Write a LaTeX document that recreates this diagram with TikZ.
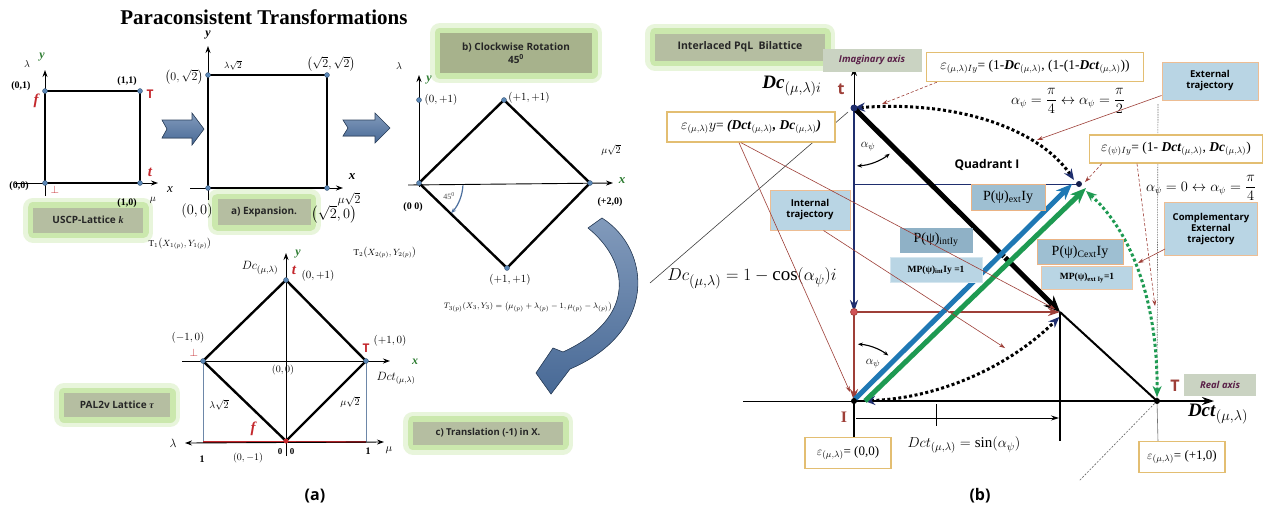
\documentclass[tikz,border=0pt]{standalone}
\usepackage{fontspec}
\usepackage{amsmath}
\setmainfont{Liberation Serif}
\newfontfamily\uisans{Open Sans}
\usetikzlibrary{arrows.meta,calc}
\definecolor{glowg}{HTML}{BFE39A}
\definecolor{olv}{HTML}{B5BEA1}
\definecolor{olvd}{HTML}{A7B28C}
\definecolor{navy}{HTML}{1F2E6E}
\definecolor{brn}{HTML}{9E3F38}
\definecolor{redl}{HTML}{C4282D}
\definecolor{stl}{HTML}{4C6F9E}
\definecolor{orng}{HTML}{E6A065}
\definecolor{gold}{HTML}{E3BE72}
\definecolor{lblue}{HTML}{B9D5E4}
\definecolor{mblue}{HTML}{9EBFD2}
\definecolor{dblue}{HTML}{8FB1C6}
\definecolor{dotblue}{HTML}{5A86B5}
\definecolor{arrblue}{HTML}{1F78B4}
\definecolor{arrgreen}{HTML}{1E9A52}
\definecolor{gaxis}{HTML}{2E7D32}
\definecolor{purp}{HTML}{5A2048}
\definecolor{axbox}{HTML}{CAD3C2}
\definecolor{vline}{HTML}{6D87A8}
\tikzset{
 ax/.style={line width=0.9pt,-{Stealth[length=7pt,width=5pt]}},
 sq/.style={line width=2.4pt,line join=round},
 bdot/.style={circle,fill=dotblue,draw=dotblue!60!black,line width=0.3pt,inner sep=0pt,minimum size=5pt},
 kdot/.style={circle,fill=black,inner sep=0pt,minimum size=6pt},
 cb/.style={font=\bfseries\fontsize{10}{12}\selectfont,inner sep=0pt},
 mt/.style={font=\fontsize{10}{12}\selectfont,inner sep=0pt},
 gbox/.style={fill=olv,text=black!85,font=\uisans\bfseries\fontsize{10}{12}\selectfont,align=center,inner sep=0pt,
   preaction={draw=glowg,line width=20pt,draw opacity=0.35,line join=round},
   preaction={draw=glowg,line width=11pt,draw opacity=0.7,line join=round}},
 ebox/.style={draw=gold,line width=1.4pt,fill=white,inner sep=0pt},
 pbox/.style={fill=mblue,draw=orng!80,line width=1pt,inner sep=0pt},
 tbox/.style={fill=lblue,draw=orng!70,line width=1pt,inner sep=0pt,align=center,font=\uisans\bfseries\fontsize{9.5}{11}\selectfont},
 blk/.style={top color=stl!70!white,bottom color=stl!95!black,draw=stl!60!black,line width=0.6pt},
 ld/.style={draw=brn,line width=0.6pt,-{Stealth[length=6pt,width=4pt]}},
 dotc/.style={line width=3pt,dash pattern=on 3pt off 2.5pt},
}
\newcommand{\bi}[1]{\textbf{\textit{#1}}}
\begin{document}
\begin{tikzpicture}[x=1pt,y=-1pt]
\useasboundingbox (0,0) rectangle (1264,515);
\fill[white] (0,0) rectangle (1264,515);
% ---- green label boxes (drawn first, under the texts)
\node[gbox,minimum width=110pt,minimum height=25pt] (uscp) at (88,220) {USCP-Lattice \textrm{\textit{k}}};
\node[gbox,minimum width=93pt,minimum height=26pt] (expa) at (264,212) {a) Expansion.};
\node[gbox,fill=olvd,minimum width=152pt,minimum height=40pt,font=\uisans\bfseries\fontsize{10}{13}\selectfont] (rotb) at (516,53) {b) Clockwise Rotation\\45\textsuperscript{0}};
\node[gbox,minimum width=106pt,minimum height=24pt] (pal) at (117,405) {PAL2v Lattice \textrm{\textit{\textbf{τ}}}};
\node[gbox,minimum width=150pt,minimum height=23pt,font=\uisans\bfseries\fontsize{9.5}{11}\selectfont] (transl) at (488,433) {c) Translation (-1) in X.};
\node[gbox,minimum width=170pt,minimum height=27pt,font=\uisans\bfseries\fontsize{10.5}{12}\selectfont] (bil) at (740,47) {Interlaced PqL\ \ Bilattice};
% ================= PANEL (a) =================
\node[font=\bfseries\fontsize{21}{24}\selectfont] (title) at (264,17) {Paraconsistent Transformations};
% ---- square 1
\coordinate (s1o) at (45,183); \coordinate (s1x) at (140,183);
\coordinate (s1t) at (140,91); \coordinate (s1y) at (45,91);
\coordinate (s1a0) at (15,183); \coordinate (s1a1) at (158,183);
\coordinate (s1b0) at (45,196); \coordinate (s1b1) at (45,70);
\draw[ax] (s1a0) -- (s1a1);
\draw[ax] (s1b0) -- (s1b1);
\draw[sq] (s1o) -- (s1x) -- (s1t) -- (s1y) -- cycle;
\foreach \p in {s1o,s1x,s1t,s1y} \node[bdot] (d\p) at (\p) {};
\node[cb] (q01) at (21,86) {(0,1)};
\node[mt] (q1lam) at (27,64) {$\lambda$};
\node[font=\bfseries\itshape\fontsize{12}{12}\selectfont,text=gaxis] (q1y) at (42,57) {y};
\node[font=\bfseries\itshape\fontsize{15}{15}\selectfont,text=redl] (q1f) at (36,101) {f};
\node[cb] (q11) at (127,81) {(1,1)};
\node[font=\uisans\bfseries\fontsize{12}{12}\selectfont,text=redl] (q1T) at (150,94) {T};
\node[font=\bfseries\itshape\fontsize{15}{15}\selectfont,text=redl] (q1t) at (150,172) {t};
\node[cb] (q00) at (19,186) {(0,0)};
\node[font=\fontsize{11}{11}\selectfont,text=redl] (q1bot) at (55,190) {$\bot$};
\node[cb] (q10) at (127,203) {(1,0)};
\node[mt] (q1mu) at (153,200) {$\mu$};
\node[font=\itshape\fontsize{13}{13}\selectfont] (q1x) at (170,190) {x};
% block arrow 1
\filldraw[blk] (162,120) -- (192,120) -- (192,113) -- (204,129) -- (192,145) -- (192,138) -- (162,138) -- (167,129) -- cycle;
% ---- square 2
\coordinate (s2o) at (208,188); \coordinate (s2x) at (327,188);
\coordinate (s2t) at (327,75); \coordinate (s2y) at (208,75);
\coordinate (s2a0) at (190,188); \coordinate (s2a1) at (343,188);
\coordinate (s2b0) at (208,200); \coordinate (s2b1) at (208,46);
\draw[ax] (s2a0) -- (s2a1);
\draw[ax] (s2b0) -- (s2b1);
\draw[sq] (s2o) -- (s2x) -- (s2t) -- (s2y) -- cycle;
\foreach \p in {s2o,s2x,s2t,s2y} \node[bdot] (d\p) at (\p) {};
\node[font=\bfseries\itshape\fontsize{12}{12}\selectfont] (q2y) at (208,35) {y};
\node[font=\bfseries\itshape\fontsize{13}{13}\selectfont] (q2x) at (352,177) {x};
\node[font=\fontsize{12}{12}\selectfont] (q2mu) at (349,199) {$\mu\sqrt{2}$};
\node[font=\fontsize{9}{9}\selectfont] (q2lam) at (233,65) {$\lambda\sqrt{2}$};
\node[font=\fontsize{13}{13}\selectfont] (q2a) at (184,77) {$\left(0,\sqrt{2}\right)$};
\node[font=\fontsize{13}{13}\selectfont] (q2b) at (331,64) {$\left(\sqrt{2},\sqrt{2}\right)$};
\node[font=\fontsize{14}{14}\selectfont] (q2c) at (197,211) {$(0,0)$};
\node[font=\fontsize{15}{15}\selectfont] (q2d) at (334,214) {$\left(\sqrt{2},0\right)$};
% block arrow 2
\filldraw[blk] (343,120) -- (375,120) -- (375,113) -- (390,128) -- (375,143) -- (375,136) -- (343,136) -- (348,128) -- cycle;
% ---- rotated square
\coordinate (r0) at (419,183); \coordinate (rt) at (504,100);
\coordinate (rr) at (590,183); \coordinate (rb) at (507,268);
\coordinate (r1) at (419,100);
\coordinate (ra0) at (408,185); \coordinate (ra1) at (613,183);
\coordinate (rb0) at (419,187); \coordinate (rb1) at (419,75);
\draw[ax] (ra0) -- (ra1);
\draw[ax] (rb0) -- (rb1);
\draw[sq] (r0) -- (rt) -- (rr) -- (rb) -- cycle;
\foreach \p in {r0,rt,rr,rb,r1} \node[bdot] (d\p) at (\p) {};
\node[mt] (q3lam) at (399,66) {$\lambda$};
\node[font=\bfseries\itshape\fontsize{12}{12}\selectfont,text=gaxis] (q3y) at (429,80) {y};
\node[font=\fontsize{11}{11}\selectfont] (q3a) at (441,100) {$(0,+1)$};
\node[font=\fontsize{11}{11}\selectfont] (q3b) at (529,98) {$(+1,+1)$};
\node[font=\fontsize{11}{11}\selectfont] (q3c) at (510,280) {$(+1,+1)$};
\node[font=\fontsize{10}{10}\selectfont] (q3mu) at (611,150) {$\mu\sqrt{2}$};
\node[font=\bfseries\itshape\fontsize{13}{13}\selectfont,text=gaxis] (q3x) at (622,181) {x};
\node[cb] (q3o) at (413,207) {(0 0)};
\node[cb] (q3r) at (610,202) {(+2,0)};
\node[font=\fontsize{8}{8}\selectfont,text=black!70] (q3ang) at (449,196) {45\textsuperscript{0}};
\draw[draw=stl,line width=1.2pt,-{Stealth[length=5pt,width=4pt]}] ($(r0)+(3:44)$) arc[start angle=3,end angle=43,radius=44];
% ---- curved block arrow
\filldraw[blk] (588,228) .. controls (630,262) and (637,318) .. (563,352)
  -- (553,348) -- (536,373) -- (551,394) -- (570,369)
  .. controls (657,332) and (652,250) .. (602,218) -- cycle;
% ---- T labels
\node[font=\fontsize{9}{9}\selectfont] (t1) at (180,244) {$\mathrm{T}_1\!\left(X_{1(p)},Y_{1(p)}\right)$};
\node[font=\fontsize{9}{9}\selectfont] (t2) at (385,253) {$\mathrm{T}_2\!\left(X_{2(p)},Y_{2(p)}\right)$};
\node[font=\fontsize{8.2}{9}\selectfont] (t3) at (528,307) {$T_{3(p)}\!\left(X_3,Y_3\right)=\left(\mu_{(p)}+\lambda_{(p)}-1,\mu_{(p)}-\lambda_{(p)}\right)$};
% ---- diamond 3 (translated)
\coordinate (dc) at (286,361); \coordinate (dt) at (286,280);
\coordinate (dl) at (203,361); \coordinate (dr) at (366,361);
\coordinate (db) at (286,441);
\coordinate (dla) at (203,442); \coordinate (dra) at (366,442);
\coordinate (dx0) at (182,361); \coordinate (dx1) at (390,361);
\coordinate (dy0) at (286,456); \coordinate (dy1) at (286,253);
\coordinate (dm0) at (185,443); \coordinate (dm1) at (384,442);
\draw[ax] (dx0) -- (dx1);
\draw[ax] (dy0) -- (dy1);
\draw[vline,line width=0.7pt] (dl) -- (dla) (dr) -- (dra);
\draw[redl,line width=2pt] (dla) -- (dra);
\draw[line width=0.9pt,{Stealth[length=7pt,width=5pt]}-{Stealth[length=7pt,width=5pt]}] (dm0) -- (dm1);
\draw[sq] (dt) -- (dr) -- (db) -- (dl) -- cycle;
\foreach \p in {dt,dr,dl} \node[bdot] (d\p) at (\p) {};
\node[circle,fill=redl,inner sep=0pt,minimum size=5pt] (ddb) at (db) {};
\node[font=\bfseries\itshape\fontsize{12}{12}\selectfont,text=gaxis] (q4y) at (298,254) {y};
\node[font=\fontsize{13}{13}\selectfont] (q4dc) at (260,268) {$Dc_{(\mu,\lambda)}$};
\node[font=\bfseries\itshape\fontsize{15}{15}\selectfont,text=redl] (q4t) at (294,270) {t};
\node[font=\fontsize{11}{11}\selectfont] (q4a) at (318,276) {$(0,+1)$};
\node[font=\fontsize{11}{11}\selectfont] (q4b) at (188,338) {$(-1,0)$};
\node[font=\fontsize{11}{11}\selectfont,text=redl] (q4bot) at (194,353) {$\bot$};
\node[font=\uisans\bfseries\fontsize{12}{12}\selectfont,text=redl] (q4T) at (366,348) {T};
\node[font=\fontsize{11}{11}\selectfont] (q4c) at (390,341) {$(+1,0)$};
\node[font=\bfseries\itshape\fontsize{12}{12}\selectfont,text=gaxis] (q4x) at (415,362) {x};
\node[font=\fontsize{10}{10}\selectfont] (q4o) at (283,370) {$(0,0)$};
\node[font=\fontsize{12}{12}\selectfont] (q4dct) at (396,378) {$Dct_{(\mu,\lambda)}$};
\node[font=\fontsize{10}{10}\selectfont] (q4l2) at (219,405) {$\lambda\sqrt{2}$};
\node[font=\fontsize{10}{10}\selectfont] (q4m2) at (350,402) {$\mu\sqrt{2}$};
\node[font=\bfseries\itshape\fontsize{15}{15}\selectfont,text=redl] (q4f) at (253,429) {f};
\node[font=\fontsize{12}{12}\selectfont] (q4lam) at (173,443) {$\lambda$};
\node[font=\fontsize{11}{11}\selectfont] (q4mu) at (389,450) {$\mu$};
\node[cb] (q4one) at (202,459) {1};
\node[cb] (q4one2) at (368,451) {1};
\node[font=\fontsize{10}{10}\selectfont] (q4m) at (248,458) {$(0,-1)$};
\node[cb,font=\bfseries\fontsize{9}{9}\selectfont] (q4z1) at (280,452) {0};
\node[cb,font=\bfseries\fontsize{9}{9}\selectfont] (q4z2) at (292,452) {0};
\node[font=\uisans\bfseries\fontsize{16}{16}\selectfont] (capa) at (315,496) {(a)};
% ================= PANEL (b) =================
\coordinate (O) at (854,401); \coordinate (tt) at (854,108);
\coordinate (TT) at (1157,401); \coordinate (P) at (1060,312);
\coordinate (R) at (854,312); \coordinate (Q) at (1079,184);
\coordinate (Qh) at (854,184);
\coordinate (vtop) at (854,68); \coordinate (vbot) at (854,445);
\coordinate (hl) at (743,401); \coordinate (hr) at (1214,401);
\coordinate (pb) at (1060,441);
\coordinate (ar0) at (856,418); \coordinate (ar1) at (1059,418);
\coordinate (tk0) at (936,404); \coordinate (tk1) at (936,426);
\coordinate (g1a) at (848,112); \coordinate (g1b) at (650,283);
\coordinate (g2b) at (1079,481);
\coordinate (g3a) at (1158,104); \coordinate (g3b) at (1158,442);
% thin guide lines
\draw[black!75,line width=0.6pt] (g1a) -- (g1b);
\draw[black!60,line width=0.6pt,dash pattern=on 2pt off 1.5pt] (TT) -- (g2b);
\draw[black!55,line width=0.6pt,dash pattern=on 1.5pt off 1pt] (g3a) -- (TT);
\draw[black!55,line width=0.6pt] (TT) -- (g3b);
% axes
\draw[line width=0.9pt,-{Stealth[length=8pt,width=6pt]}] (tt) -- (vtop);
\draw[line width=0.7pt] (hl) -- (O);
\draw[line width=2.4pt,-{Stealth[length=12pt,width=8pt]}] (O) -- (hr);
\draw[line width=2.4pt] (O) -- (vbot);
\draw[line width=2.2pt] (P) -- (pb);
\draw[line width=0.9pt,-{Stealth[length=8pt,width=5pt]}] (ar0) -- (ar1);
\draw[line width=0.8pt] (tk0) -- (tk1);
\draw[navy,line width=1pt] (Qh) -- (Q);
% trajectories
\draw[dotc,{Stealth[length=11pt,width=9pt,color=navy]}-{Stealth[length=11pt,width=9pt,color=navy]}] ($(tt)+(88:293)$) arc[start angle=88,end angle=45.5,radius=293];
\draw[dotc,{Stealth[length=11pt,width=9pt,color=navy]}-{Stealth[length=11pt,width=9pt,color=navy]}] (tt) .. controls (960,100) and (1040,130) .. (1074,180);
\draw[dotc,draw=arrgreen,{Stealth[length=11pt,width=9pt]}-{Stealth[length=11pt,width=9pt]}] (1086,191) .. controls (1130,230) and (1158,300) .. (1157,397);
% main lines
\draw[navy,line width=2.4pt,-{Stealth[length=12pt,width=8pt]}] (tt) -- (R);
\draw[brn,line width=2.2pt,-{Stealth[length=12pt,width=8pt]}] (R) -- (O);
\draw[brn,line width=2.2pt,-{Stealth[length=12pt,width=8pt]}] (R) -- (P);
\draw[line width=2pt] (P) -- (TT);
\draw[line width=5pt,-{Stealth[length=16pt,width=14pt]}] (tt) -- (P);
\draw[arrgreen,line width=5pt,-{Stealth[length=16pt,width=13pt]}] (865,401) -- (1086,188);
\draw[white,line width=1.2pt] (861,396) -- (1072,192);
\draw[arrblue,line width=5pt,-{Stealth[length=16pt,width=13pt]}] (855,399) -- (1072,184);
% angle arcs
\draw[line width=1.1pt,{Stealth[length=5pt,width=4pt]}-{Stealth[length=5pt,width=4pt]}] ($(tt)+(87:58)$) arc[start angle=87,end angle=52,radius=58];
\draw[line width=1.1pt,{Stealth[length=5pt,width=4pt]}-{Stealth[length=5pt,width=4pt]}] ($(O)+(-86:57)$) arc[start angle=-86,end angle=-53,radius=57];
% dots
\node[circle,fill=navy,inner sep=0pt,minimum size=7pt] (dtt) at (tt) {};
\node[circle,fill=redl!80,draw=brn,line width=0.6pt,inner sep=0pt,minimum size=7pt] (dR) at (R) {};
\node[kdot] (dO) at (O) {};
\node[kdot] (dTT) at (TT) {};
\node[kdot,fill=navy!70!black] (dQ) at (Q) {};
% text labels
\node[font=\fontsize{13}{13}\selectfont] (aup) at (868,147) {$\alpha_\psi$};
\node[font=\fontsize{13}{13}\selectfont] (adn) at (873,364) {$\alpha_\psi$};
\node[font=\fontsize{19}{19}\selectfont] (dclab) at (792,86) {\bi{Dc}$_{(\mu,\lambda)i}$};
\node[font=\uisans\bfseries\fontsize{16}{16}\selectfont,text=brn] (tsym) at (841,89) {t};
\node[fill=axbox,inner sep=0pt,minimum width=99pt,minimum height=23pt,font=\uisans\bfseries\itshape\fontsize{9.5}{11}\selectfont,text=purp] (imag) at (872,60) {Imaginary axis};
\node[font=\uisans\bfseries\fontsize{12}{12}\selectfont] (quad) at (987,165) {Quadrant I};
\node[font=\fontsize{19}{19}\selectfont] (dceq) at (752,278) {$Dc_{(\mu,\lambda)}=1-\cos(\alpha_{\psi})i$};
\node[font=\fontsize{15}{15}\selectfont] (dcteq) at (964,445) {$Dct_{(\mu,\lambda)}=\sin(\alpha_{\psi})$};
\node[font=\fontsize{19}{19}\selectfont] (dctlab) at (1218,414) {\bi{Dct}$_{(\mu,\lambda)}$};
\node[font=\uisans\bfseries\fontsize{16}{16}\selectfont,text=brn] (Tsym) at (1175,386) {T};
\node[fill=axbox,inner sep=0pt,minimum width=72pt,minimum height=22pt,font=\uisans\bfseries\itshape\fontsize{9.5}{11}\selectfont,text=purp] (real) at (1220,385) {Real axis};
\node[font=\bfseries\fontsize{16}{16}\selectfont,text=brn] (Isym) at (844,417) {I};
\node[font=\fontsize{13.5}{13.5}\selectfont] (aeq1) at (1068,101) {$\alpha_\psi=\dfrac{\pi}{4}\leftrightarrow\alpha_\psi=\dfrac{\pi}{2}$};
\node[font=\fontsize{13.5}{13.5}\selectfont] (aeq2) at (1201,188) {$\alpha_\psi=0\leftrightarrow\alpha_\psi=\dfrac{\pi}{4}$};
% boxes
\node[ebox,minimum width=168pt,minimum height=30pt,font=\fontsize{13.5}{13.5}\selectfont] (ey) at (751,127) {$\varepsilon_{(\mu,\lambda)}y$= \bi{(Dct}$_{(\mu,\lambda)}$\bi{, Dc}$_{(\mu,\lambda)}$\bi{)}};
\node[ebox,minimum width=217pt,minimum height=29pt,font=\fontsize{13.5}{13.5}\selectfont] (eIy) at (1035,67) {$\varepsilon_{(\mu,\lambda)Iy}$= (1-\bi{Dc}$_{(\mu,\lambda)}$, (1-(1-\bi{Dct}$_{(\mu,\lambda)}$))};
\node[ebox,minimum width=173pt,minimum height=28pt,font=\fontsize{13.5}{13.5}\selectfont] (epsi) at (1176,149) {$\varepsilon_{(\psi)Iy}$= (1- \bi{Dct}$_{(\mu,\lambda)}$, \bi{Dc}$_{(\mu,\lambda)}$)};
\node[ebox,minimum width=86pt,minimum height=31pt,font=\fontsize{13}{13}\selectfont] (e00) at (848,453) {$\varepsilon_{(\mu,\lambda)}$= (0,0)};
\node[ebox,minimum width=86pt,minimum height=31pt,font=\fontsize{13}{13}\selectfont] (e10) at (1182,457) {$\varepsilon_{(\mu,\lambda)}$= (+1,0)};
\node[tbox,minimum width=96pt,minimum height=38pt] (ext) at (1210,81) {External\\trajectory};
\node[tbox,minimum width=93pt,minimum height=53pt] (cext) at (1211,229) {Complementary\\External\\trajectory};
\node[tbox,minimum width=80pt,minimum height=40pt] (intt) at (810,210) {Internal\\trajectory};
\node[pbox,minimum width=74pt,minimum height=26pt,font=\fontsize{14}{14}\selectfont] (pext) at (1008,197) {P(ψ)\textsubscript{ext}Iy};
\node[fill=dblue,inner sep=0pt,minimum width=73pt,minimum height=25pt,font=\fontsize{14}{14}\selectfont] (pint) at (936,240) {P(ψ)\textsubscript{intIy}};
\node[fill=lblue,draw=lblue!60!white,line width=1pt,inner sep=0pt,minimum width=92pt,minimum height=25pt,font=\bfseries\fontsize{9.5}{9.5}\selectfont] (mpint) at (936,270) {MP(ψ)\textsubscript{int}Iy =1};
\node[pbox,minimum width=86pt,minimum height=25pt,font=\fontsize{14}{14}\selectfont] (pcext) at (1080,252) {P(ψ)\textsubscript{Cext}Iy};
\node[fill=lblue,draw=orng!60,line width=1pt,inner sep=0pt,minimum width=91pt,minimum height=23pt,font=\bfseries\fontsize{9.5}{9.5}\selectfont] (mpext) at (1087,278) {MP(ψ)\textsubscript{ext Iy}=1};
% leader lines
\coordinate (L1e) at (850,392); \coordinate (L2e) at (1055,309);
\coordinate (L3e) at (1005,348); \coordinate (L4e) at (882,104);
\coordinate (L5e) at (1037,140); \coordinate (L6e) at (1085,182);
\coordinate (L7e) at (1155,306); \coordinate (L8e) at (1138,263);
\draw[ld] ([xshift=-12pt]ey.south) -- (L1e);
\draw[ld] ([xshift=-10pt]ey.south) -- (L2e);
\draw[ld] ([xshift=-27pt]intt.south east) -- (L3e);
\draw[ld,dash pattern=on 3pt off 2pt] ([xshift=11pt]eIy.south west) -- (L4e);
\draw[ld] ([yshift=5pt]ext.south west) -- (L5e);
\draw[ld,dash pattern=on 3pt off 2pt] ([xshift=13pt]epsi.south west) -- (L6e);
\draw[ld,dash pattern=on 3pt off 2pt] ([xshift=-39pt]epsi.south) -- (L7e);
\draw[ld] ([xshift=1pt,yshift=7pt]cext.south west) -- (L8e);
\node[font=\uisans\bfseries\fontsize{16}{16}\selectfont] (capb) at (980,496) {(b)};
\end{tikzpicture}
\end{document}
